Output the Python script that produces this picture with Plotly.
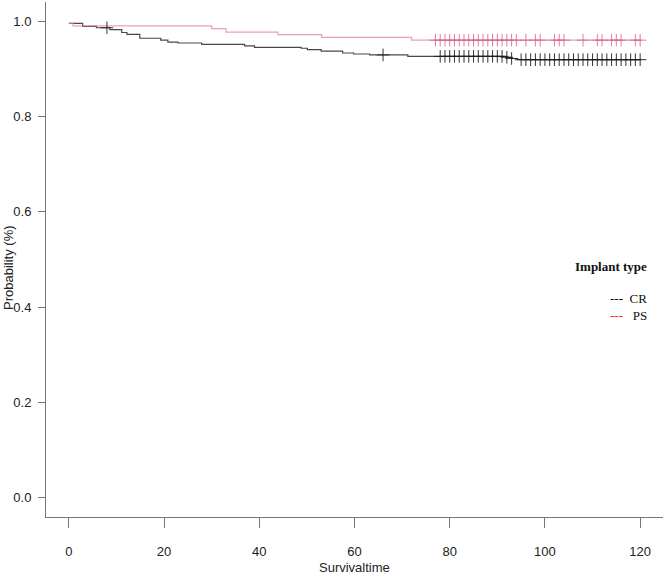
import numpy as np
import plotly.graph_objects as go

# Kaplan-Meier step data (time, survival)
cr_time = [0, 2.9, 5.8, 8.6, 11.1, 12.2, 14.9, 19.3, 20.8, 22.9, 27.9, 36.9, 39.0,
           48.8, 50.1, 53.0, 57.5, 59.8, 63.2, 71.2, 91.8, 93.0, 94.3, 120]
cr_surv = [0.995, 0.989, 0.986, 0.982, 0.976, 0.972, 0.964, 0.960, 0.956, 0.954, 0.951,
           0.948, 0.945, 0.943, 0.940, 0.937, 0.933, 0.931, 0.929, 0.926, 0.924, 0.9215,
           0.919, 0.919]

ps_time = [0, 0.9, 30.0, 33.0, 43.9, 53.1, 72.0, 120]
ps_surv = [0.995, 0.990, 0.984, 0.977, 0.9715, 0.966, 0.960, 0.960]

# censoring times
cr_censor = [8, 66, 78, 79, 80, 81, 82, 83, 84, 85, 86, 87, 88, 89, 90, 91, 92, 93,
             95, 96, 97, 98, 99, 100, 101, 102, 103, 104, 105, 106, 107, 108, 109, 110,
             111, 112, 113, 114, 115, 116, 117, 118, 119, 120]
ps_censor = [77, 78, 79, 80, 81, 82, 83, 84, 85, 86, 87, 88, 89, 90, 91, 92, 93, 94,
             96, 98, 99, 102, 103, 104, 108, 111, 112, 114, 115, 116, 119, 120]

x_ticks = [0, 20, 40, 60, 80, 100, 120]
y_ticks = [0.0, 0.2, 0.4, 0.6, 0.8, 1.0]

legend_title = "Implant type"
group_names = ["CR", "PS"]


def step_value(times, surv, t):
    idx = np.searchsorted(np.array(times), t, side="right") - 1
    return [surv[i] for i in idx]


cr_line = "rgba(40,40,40,0.85)"
ps_line = "rgba(225,130,155,0.75)"
cr_mark = "rgba(30,30,30,0.9)"
ps_mark = "rgba(218,95,130,0.8)"

fig = go.Figure()
fig.add_trace(go.Scatter(x=cr_time, y=cr_surv, mode="lines", line_shape="hv",
                         line=dict(color=cr_line, width=1.2), showlegend=False))
fig.add_trace(go.Scatter(x=ps_time, y=ps_surv, mode="lines", line_shape="hv",
                         line=dict(color=ps_line, width=1.2), showlegend=False))
fig.add_trace(go.Scatter(x=cr_censor, y=step_value(cr_time, cr_surv, cr_censor),
                         mode="markers",
                         marker=dict(symbol="cross-thin", size=9,
                                     line=dict(color=cr_mark, width=1)),
                         showlegend=False))
fig.add_trace(go.Scatter(x=ps_censor, y=step_value(ps_time, ps_surv, ps_censor),
                         mode="markers",
                         marker=dict(symbol="cross-thin", size=9,
                                     line=dict(color=ps_mark, width=1)),
                         showlegend=False))

axis_font = dict(family="Liberation Sans Narrow, Liberation Sans, Arial", size=13, color="#222")
title_font = dict(family="Liberation Sans Narrow, Liberation Sans, Arial", size=13, color="#222")

fig.update_layout(
    width=666, height=580,
    margin=dict(l=46, r=3, t=2, b=63),
    paper_bgcolor="white", plot_bgcolor="white",
    xaxis=dict(range=[-4.8, 124.8], tickvals=x_ticks, ticktext=[str(v) for v in x_ticks],
               showgrid=False, zeroline=False, showline=True, linecolor="#777", linewidth=1,
               ticks="outside", ticklen=10, tickcolor="#777", tickwidth=1,
               tickfont=axis_font, ticklabelstandoff=12),
    yaxis=dict(range=[-0.04, 1.04], tickvals=y_ticks, ticktext=[f"{v:.1f}" for v in y_ticks],
               showgrid=False, zeroline=False, showline=True, linecolor="#777", linewidth=1,
               ticks="outside", ticklen=7, tickcolor="#777", tickwidth=1,
               tickfont=axis_font, ticklabelstandoff=4),
    showlegend=False,
)

fig.add_annotation(text="Survivaltime", xref="paper", yref="paper",
                   x=(354 - 46) / (666 - 49), y=-(567 - 517) / (517 - 2),
                   showarrow=False, font=title_font, xanchor="center", yanchor="middle")
fig.add_annotation(text="Probability (%)", xref="paper", yref="paper",
                   x=-(46 - 8) / (666 - 49), y=(517 - 268) / (517 - 2), textangle=-90,
                   showarrow=False, font=title_font, xanchor="center", yanchor="middle")

serif = "Liberation Serif, DejaVu Serif, serif"
fig.add_annotation(text="<b>" + legend_title + "</b>", xref="paper", yref="paper",
                   x=(649 - 46) / (666 - 49), y=(517 - 266) / (517 - 2),
                   showarrow=False, xanchor="right", yanchor="middle",
                   font=dict(family=serif, size=13, color="#111"))
fig.add_annotation(text="<span style='color:#000'>---</span>  " + group_names[0],
                   xref="paper", yref="paper",
                   x=(649 - 46) / (666 - 49), y=(517 - 298) / (517 - 2),
                   showarrow=False, xanchor="right", yanchor="middle",
                   font=dict(family=serif, size=13, color="#111"))
fig.add_annotation(text="<span style='color:#ff2020'>---</span>   " + group_names[1],
                   xref="paper", yref="paper",
                   x=(649 - 46) / (666 - 49), y=(517 - 315) / (517 - 2),
                   showarrow=False, xanchor="right", yanchor="middle",
                   font=dict(family=serif, size=13, color="#111"))

fig.write_html("out.html")
